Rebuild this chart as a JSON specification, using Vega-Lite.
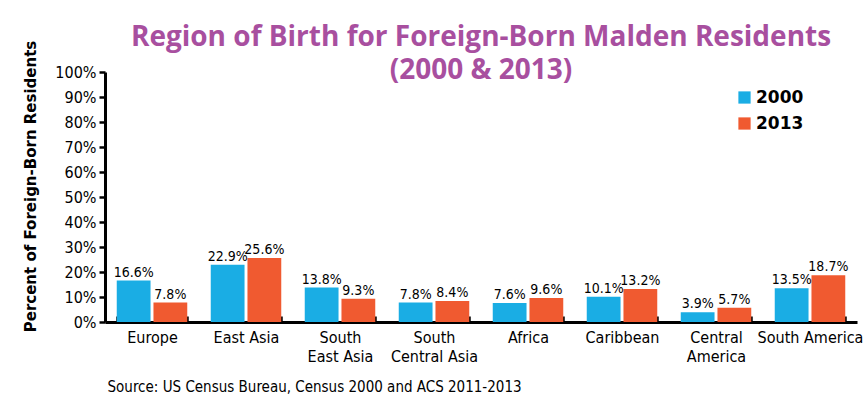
{
  "$schema": "https://vega.github.io/schema/vega-lite/v6.json",
  "width": 752,
  "height": 250,
  "autosize": {"type": "none"},
  "padding": {"left": 105, "top": 72, "right": 7, "bottom": 80},
  "background": "white",
  "title": {
    "text": ["Region of Birth for Foreign-Born Malden Residents", "(2000 & 2013)"],
    "font": "Open Sans",
    "fontSize": 28,
    "fontWeight": "bold",
    "color": "#a84f9f",
    "anchor": "middle",
    "baseline": "top",
    "lineHeight": 33,
    "offset": -45
  },
  "data": {
    "values": [
      {"region": "Europe", "year": "2000", "pct": 16.6},
      {"region": "Europe", "year": "2013", "pct": 7.8},
      {"region": "East Asia", "year": "2000", "pct": 22.9},
      {"region": "East Asia", "year": "2013", "pct": 25.6},
      {"region": "South|East Asia", "year": "2000", "pct": 13.8},
      {"region": "South|East Asia", "year": "2013", "pct": 9.3},
      {"region": "South|Central Asia", "year": "2000", "pct": 7.8},
      {"region": "South|Central Asia", "year": "2013", "pct": 8.4},
      {"region": "Africa", "year": "2000", "pct": 7.6},
      {"region": "Africa", "year": "2013", "pct": 9.6},
      {"region": "Caribbean", "year": "2000", "pct": 10.1},
      {"region": "Caribbean", "year": "2013", "pct": 13.2},
      {"region": "Central|America", "year": "2000", "pct": 3.9},
      {"region": "Central|America", "year": "2013", "pct": 5.7},
      {"region": "South America", "year": "2000", "pct": 13.5},
      {"region": "South America", "year": "2013", "pct": 18.7}
    ]
  },
  "transform": [
    {"calculate": "format(datum.pct, '.1f') + '%'", "as": "label"}
  ],
  "encoding": {
    "x": {
      "field": "region",
      "type": "nominal",
      "sort": null,
      "scale": {"paddingInner": 0.25, "paddingOuter": 0.125},
      "axis": {
        "title": "Source: US Census Bureau, Census 2000 and ACS 2011-2013",
        "titleFont": "Liberation Sans Narrow, DejaVu Sans Condensed, sans-serif",
        "titleFontSize": 15,
        "titleFontWeight": "normal",
        "titleColor": "black",
        "titleAnchor": "start",
        "titleAlign": "left",
        "titleBaseline": "alphabetic",
        "titleX": 2,
        "titleY": 69,
        "labelExpr": "split(datum.label, '|')",
        "labelAngle": 0,
        "labelFont": "Liberation Sans Narrow, DejaVu Sans Condensed, sans-serif",
        "labelFontSize": 16,
        "labelColor": "black",
        "labelLineHeight": 19,
        "labelBaseline": "top",
        "labelPadding": 13,
        "tickBand": "extent",
        "tickSize": -6,
        "tickWidth": 2.5,
        "tickColor": "black",
        "domainColor": "black",
        "domainWidth": 3
      }
    },
    "xOffset": {"field": "year", "type": "nominal", "scale": {"paddingInner": 0.08}},
    "y": {
      "field": "pct",
      "type": "quantitative",
      "scale": {"domain": [0, 100]},
      "axis": {
        "title": "Percent of Foreign-Born Residents",
        "titleFont": "DejaVu Sans",
        "titleFontSize": 15,
        "titleFontWeight": "bold",
        "titleColor": "black",
        "titleBaseline": "alphabetic",
        "titleX": -70,
        "titleY": 114,
        "values": [0, 10, 20, 30, 40, 50, 60, 70, 80, 90, 100],
        "labelExpr": "datum.value + '%'",
        "labelFont": "Liberation Sans Narrow, DejaVu Sans Condensed, sans-serif",
        "labelFontSize": 16,
        "labelColor": "black",
        "labelPadding": 3,
        "tickSize": 6,
        "tickWidth": 2.5,
        "tickColor": "black",
        "domainColor": "black",
        "domainWidth": 3,
        "grid": false
      }
    }
  },
  "layer": [
    {
      "mark": {"type": "bar"},
      "encoding": {
        "color": {
          "field": "year",
          "type": "nominal",
          "scale": {"domain": ["2000", "2013"], "range": ["#1aade4", "#f05a30"]},
          "legend": {
            "title": null,
            "orient": "none",
            "legendX": 631,
            "legendY": 17,
            "symbolType": "square",
            "symbolSize": 150,
            "symbolStrokeWidth": 0,
            "symbolOpacity": 1,
            "labelFont": "DejaVu Sans",
            "labelFontSize": 17,
            "labelFontWeight": "bold",
            "labelColor": "black",
            "labelOffset": 3,
            "rowPadding": 8
          }
        }
      }
    },
    {
      "mark": {
        "type": "text",
        "baseline": "alphabetic",
        "dy": -4,
        "font": "Liberation Sans Narrow, DejaVu Sans Condensed, sans-serif",
        "fontSize": 14,
        "color": "black"
      },
      "encoding": {
        "text": {"field": "label", "type": "nominal"}
      }
    }
  ],
  "config": {"view": {"stroke": null}}
}
